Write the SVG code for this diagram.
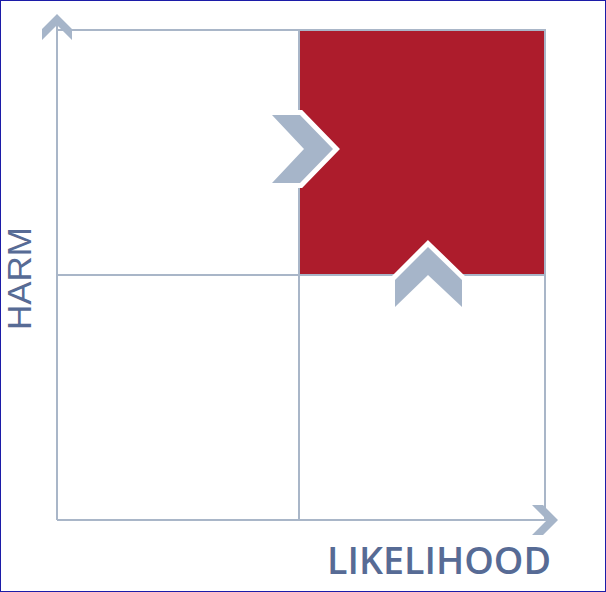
<svg xmlns="http://www.w3.org/2000/svg" width="606" height="592" viewBox="0 0 606 592">
<style>
.grid{fill:none;stroke:#a9b6c8;stroke-width:2}
.chev{fill:#a6b5c9}
.halo{fill:#ffffff;stroke:#ffffff;stroke-width:10;stroke-linejoin:miter}
.lbl{font-family:"Open Sans","Liberation Sans",sans-serif;font-weight:600;fill:#576b95}
</style>
<rect x="0" y="0" width="606" height="592" fill="#ffffff"/>
<g id="quadrant-high">
<rect x="299" y="30" width="246" height="245" fill="#ad1c2c" stroke="#a9b6c8" stroke-width="2"/>
</g>
<g id="grid" class="grid">
<line x1="57" y1="30" x2="545" y2="30"/>
<line x1="545" y1="30" x2="545" y2="520"/>
<line x1="299" y1="30" x2="299" y2="520"/>
<line x1="57" y1="275" x2="545" y2="275"/>
</g>
<g id="connectors">
<line class="grid" x1="57" y1="22" x2="57" y2="520"/>
<line class="grid" x1="57" y1="520" x2="550" y2="520"/>
<polygon class="chev" points="57,14 72,29 72,40 57,25 42,40 42,29"/>
<polygon class="chev" points="558,520 543,535 532,535 547,520 532,505 543,505"/>
</g>
<g id="chevron-right">
<polygon class="halo" points="272,115 300,115 333,149 300,183 272,183 304,149"/>
<polygon class="chev" points="272,115 300,115 333,149 300,183 272,183 304,149"/>
</g>
<g id="chevron-up">
<polygon class="halo" points="428,247 462,280 462,307 428,275 395,307 395,280"/>
<polygon class="chev" points="428,247 462,280 462,307 428,275 395,307 395,280"/>
</g>
<g id="label-harm">
<text font-family="'Liberation Sans',Arial,sans-serif" font-size="33" fill="#576b95" transform="translate(31,330) rotate(-90)" textLength="103" lengthAdjust="spacingAndGlyphs">HARM</text>
</g>
<g id="label-likelihood">
<text class="lbl" font-size="38" x="327" y="574" textLength="224" lengthAdjust="spacingAndGlyphs">LIKELIHOOD</text>
</g>
<rect x="0.5" y="0.5" width="605" height="591" fill="none" stroke="#1c1ca8" stroke-width="1"/>
</svg>
